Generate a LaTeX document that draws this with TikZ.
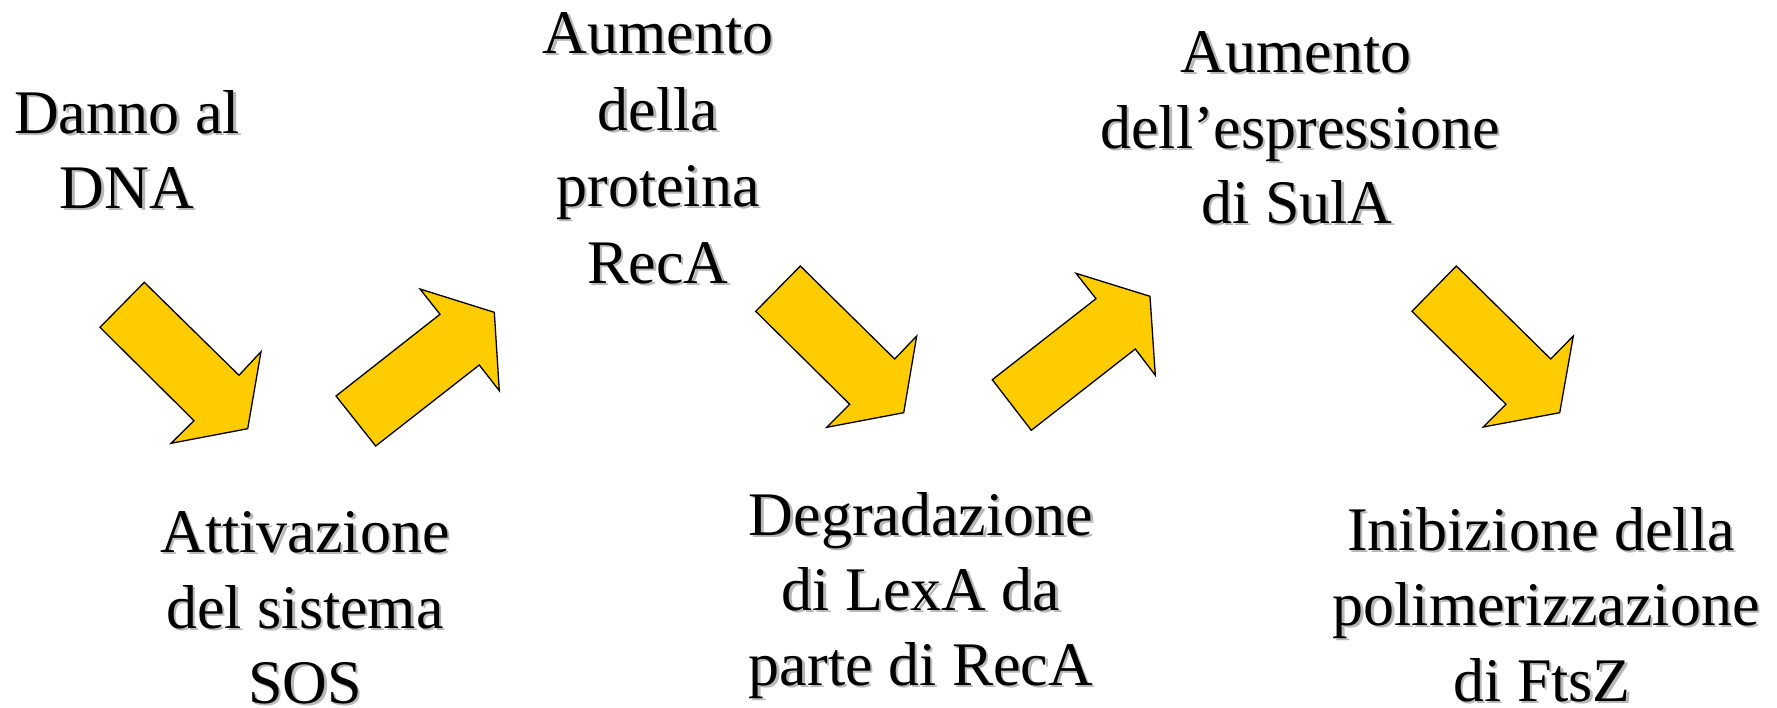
\documentclass[tikz,border=0pt]{standalone}
\usepackage{fontspec}
\setmainfont{Liberation Serif}
\definecolor{arrowyellow}{RGB}{255,204,0}
\newcommand\shtext[4]{%
  \node[txtshadow] (#1s) at (#2+2.5,#3+2.5) {#4};
  \node[txt] (#1) at (#2,#3) {#4};}
\begin{document}
\begin{tikzpicture}[x=1pt,y=-1pt,
  txt/.style={anchor=base,inner sep=0pt,font=\fontsize{62}{74}\selectfont,text=black},
  txtshadow/.style={txt,text=black!28},
  bigarrow/.style={fill=arrowyellow,draw=black,line width=1.3pt,line join=miter}]
\useasboundingbox (0,0) rectangle (1777,707);
\fill[white] (0,0) rectangle (1777,707);
% arrows
\draw[bigarrow] (100,327.3) -- (144.3,282.3) -- (239,375.3) -- (261,351.7) -- (247.7,428.7) -- (171,443.3) -- (194,420.7) -- cycle;
\draw[bigarrow] (336,396) -- (440,314.3) -- (420,289) -- (494.3,312.3) -- (499.3,390.7) -- (479.3,365) -- (375.7,446) -- cycle;
\draw[bigarrow] (755.7,311.3) -- (800.3,266) -- (894.7,359) -- (916.7,336) -- (903.7,412.7) -- (826.7,427.3) -- (849.7,404.3) -- cycle;
\draw[bigarrow] (992.3,379.7) -- (1096,298.7) -- (1076,273.3) -- (1150,296.3) -- (1155.3,375.3) -- (1135.3,349) -- (1031.3,430.3) -- cycle;
\draw[bigarrow] (1412,311.3) -- (1456.3,266) -- (1550.7,359) -- (1573.3,336) -- (1559.7,412.7) -- (1483.3,427) -- (1506,404.3) -- cycle;
% texts
\shtext{ta1}{127}{133}{Danno al}
\shtext{ta2}{127}{208}{DNA}
\shtext{tb1}{658}{53}{Aumento}
\shtext{tb2}{658}{130}{della}
\shtext{tb3}{658}{206}{proteina}
\shtext{tb4}{658}{283}{RecA}
\shtext{tc1}{305}{552}{Attivazione}
\shtext{tc2}{305}{628}{del sistema}
\shtext{tc3}{305}{703}{SOS}
\shtext{td1}{921}{535}{Degradazione}
\shtext{td2}{921}{610}{di LexA da}
\shtext{td3}{921}{685}{parte di RecA}
\shtext{te1}{1296}{72}{Aumento}
\shtext{te2}{1300}{148}{dell’espressione}
\shtext{te3}{1297}{223}{di SulA}
\shtext{tf1}{1541}{550}{Inibizione della}
\shtext{tf2}{1546}{625}{polimerizzazione}
\shtext{tf3}{1542}{701}{di FtsZ}
\end{tikzpicture}
\end{document}
